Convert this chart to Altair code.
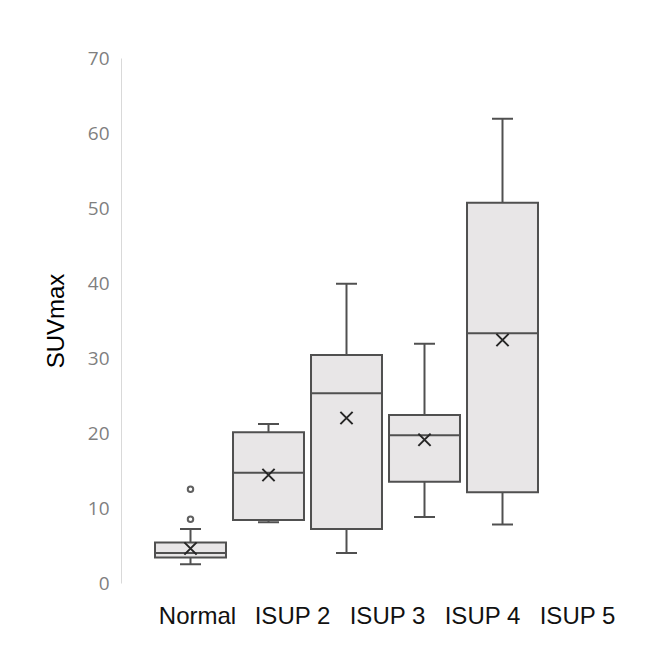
import altair as alt
import pandas as pd

categories = ["Normal", "ISUP 2", "ISUP 3", "ISUP 4", "ISUP 5"]
whisker_low = [2.5, 8.1, 4.0, 8.8, 7.8]
q1 = [3.4, 8.4, 7.2, 13.5, 12.1]
median = [4.0, 14.7, 25.3, 19.7, 33.3]
q3 = [5.4, 20.1, 30.4, 22.4, 50.7]
whisker_high = [7.2, 21.2, 39.9, 31.9, 61.9]
mean = [4.6, 14.4, 22.0, 19.1, 32.4]
outlier_cat = ["Normal", "Normal"]
outlier_val = [8.5, 12.5]

df = pd.DataFrame({
    "cat": categories, "low": whisker_low, "q1": q1, "med": median,
    "q3": q3, "high": whisker_high, "mean": mean,
})
out_df = pd.DataFrame({"cat": outlier_cat, "val": outlier_val})
lab_df = pd.DataFrame({"cat": categories})

LINE = "#505050"
FILL = "#e8e6e7"

yaxis = alt.Axis(
    title="SUVmax", values=[0, 10, 20, 30, 40, 50, 60, 70], grid=False,
    ticks=False, domainColor="#d9d9d9", domainWidth=1,
    labelFont="Open Sans", labelFontSize=19, labelColor="#7f7f7f",
    labelPadding=12, titleFont="Liberation Sans", titleFontSize=24,
    titleFontWeight="normal", titleColor="#000000", titlePadding=19,
)
yscale = alt.Scale(domain=[0, 70], nice=False, zero=True)
xenc = alt.X("cat:N", sort=categories, axis=None,
             scale=alt.Scale(paddingInner=0.09, paddingOuter=0.436))

base = alt.Chart(df)

w_lo = base.mark_rule(color=LINE, strokeWidth=2).encode(
    x=xenc, y=alt.Y("low:Q", scale=yscale, axis=yaxis), y2="q1:Q")
w_hi = base.mark_rule(color=LINE, strokeWidth=2).encode(
    x=xenc, y=alt.Y("q3:Q", scale=yscale, axis=yaxis), y2="high:Q")
box = base.mark_bar(fill=FILL, stroke=LINE, strokeWidth=2, opacity=1).encode(
    x=xenc, y=alt.Y("q1:Q", scale=yscale, axis=yaxis), y2="q3:Q")
cap_lo = base.mark_tick(color=LINE, size=21, thickness=2, opacity=1).encode(
    x=xenc, y=alt.Y("low:Q", scale=yscale, axis=yaxis))
cap_hi = base.mark_tick(color=LINE, size=21, thickness=2, opacity=1).encode(
    x=xenc, y=alt.Y("high:Q", scale=yscale, axis=yaxis))
med = base.mark_tick(color=LINE, size=71, thickness=2, opacity=1).encode(
    x=xenc, y=alt.Y("med:Q", scale=yscale, axis=yaxis))
mn = base.mark_point(shape="M-1,-1L1,1M-1,1L1,-1", size=150, filled=False,
                     strokeWidth=2, color="#262626", opacity=1).encode(
    x=xenc, y=alt.Y("mean:Q", scale=yscale, axis=yaxis))
outl = alt.Chart(out_df).mark_point(shape="circle", size=30, filled=False,
                                    fill="white", strokeWidth=2, color="#606060",
                                    opacity=1).encode(
    x=xenc, y=alt.Y("val:Q", scale=yscale, axis=yaxis))

boxes = alt.layer(w_lo, w_hi, box, cap_lo, cap_hi, med, mn, outl)

labels = alt.Chart(lab_df).mark_point(opacity=0).encode(
    x=alt.X("cat:N", sort=categories,
            scale=alt.Scale(range=[28.5, 503.5], paddingInner=0, paddingOuter=0),
            axis=alt.Axis(title=None, domain=False, ticks=False, labelAngle=0,
                          labelFont="Liberation Sans", labelFontSize=24,
                          labelColor="#111111", labelPadding=21)),
)

chart = alt.layer(boxes, labels).resolve_scale(x="independent").properties(
    width=451, height=525,
    autosize=alt.AutoSizeParams(type="none"),
    padding={"left": 113, "top": 50, "right": 70, "bottom": 60},
    background="white",
).configure_view(stroke=None)

chart.save("out.html", embed_options={"renderer": "svg", "actions": False})
